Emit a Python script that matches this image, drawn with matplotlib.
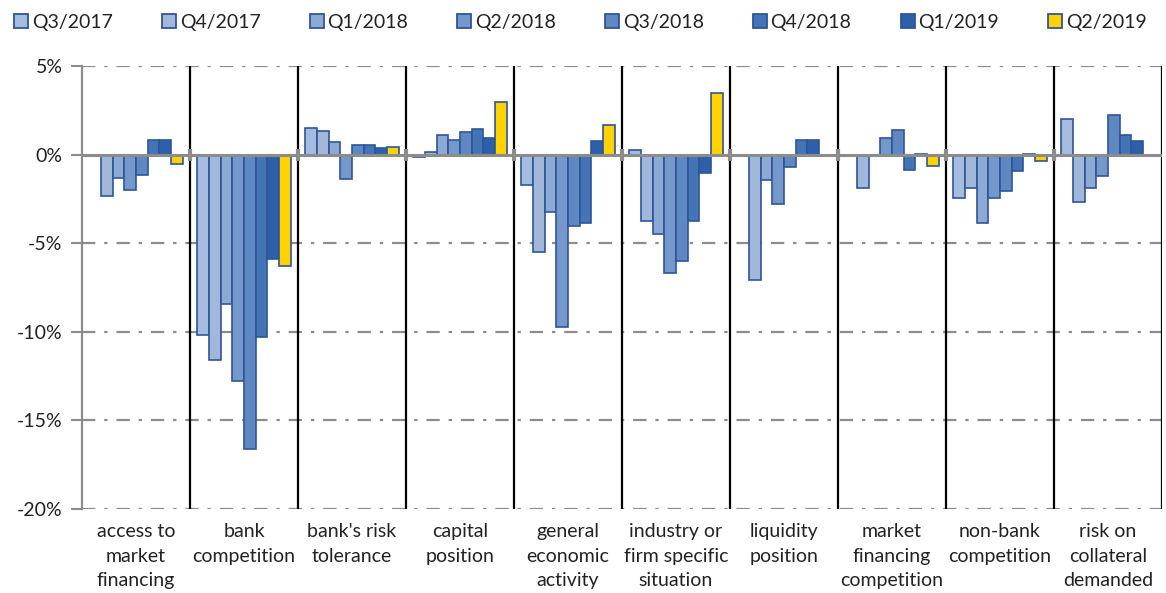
import numpy as np
import matplotlib
matplotlib.use("Agg")
import matplotlib.pyplot as plt
from matplotlib.lines import Line2D

categories = ["access to\nmarket\nfinancing", "bank\ncompetition", "bank's risk\ntolerance",
              "capital\nposition", "general\neconomic\nactivity", "industry or\nfirm specific\nsituation",
              "liquidity\nposition", "market\nfinancing\ncompetition", "non-bank\ncompetition",
              "risk on\ncollateral\ndemanded"]
series_names = ["Q3/2017", "Q4/2017", "Q1/2018", "Q2/2018", "Q3/2018", "Q4/2018", "Q1/2019", "Q2/2019"]

q3_2017 = [np.nan, -10.2, 1.5, -0.12, -1.74, 0.24, np.nan, -0.05, -2.43, 2.0]
q4_2017 = [-2.35, -11.57, 1.33, 0.12, -5.51, -3.77, -7.06, -1.86, -1.9, -2.7]
q1_2018 = [-1.32, -8.41, 0.71, 1.1, -3.25, -4.49, -1.42, 0.0, -3.87, -1.9]
q2_2018 = [-1.98, -12.79, -1.37, 0.84, -9.72, -6.68, -2.81, 0.93, -2.45, -1.2]
q3_2018 = [-1.17, -16.59, 0.53, 1.25, -4.04, -6.0, -0.7, 1.38, -2.04, 2.24]
q4_2018 = [0.85, -10.29, 0.53, 1.42, -3.87, -3.74, 0.85, -0.88, -0.92, 1.13]
q1_2019 = [0.8, -5.87, 0.35, 0.92, 0.75, -1.02, 0.85, 0.05, 0.05, 0.75]
q2_2019 = [-0.55, -6.26, 0.45, 2.97, 1.68, 3.45, -0.1, -0.62, -0.38, -0.05]

all_series = [q3_2017, q4_2017, q1_2018, q2_2018, q3_2018, q4_2018, q1_2019, q2_2019]
colors = ["#A6BCDE", "#A2B8DB", "#8CAAD3", "#7498CB", "#5D88C1", "#4374B6", "#2D60A9", "#FFD200"]
edge = "#2F5597"

plt.rcParams['font.family'] = ['Lato', 'DejaVu Sans']
txt = "#222222"

fig = plt.figure(figsize=(11.66, 5.93), dpi=100)
ax = fig.add_axes([0.0703, 0.1417, 0.9263, 0.747])

n = len(categories)
nb = len(all_series)
bw = 0.1083
x = np.arange(n)
for i, (vals, c) in enumerate(zip(all_series, colors)):
    offs = (i - (nb - 1) / 2) * bw
    ax.bar(x + offs, vals, width=bw, color=c, edgecolor=edge, linewidth=1.2, zorder=3)

ax.set_xlim(-0.5, n - 0.5)
ax.set_ylim(-20, 5)
ax.set_yticks([5, 0, -5, -10, -15, -20])
ax.set_yticklabels(["5%", "0%", "-5%", "-10%", "-15%", "-20%"], fontsize=14, color=txt)

for yv in [5, -5, -10, -15, -20]:
    ax.axhline(yv, color="#8C8C8C", lw=1.6, ls=(0, (6, 4, 1.5, 4)), zorder=1)
ax.axhline(0, color="#8C8C8C", lw=2.2, zorder=4)

bounds = np.arange(0.5, n, 1.0)
for b in bounds:
    ax.axvline(b, color="black", lw=1.6, zorder=2)
ax.plot(bounds[:-1], np.zeros(len(bounds) - 1), ls="none", marker="|",
        markersize=9, mew=3, color="#8C8C8C", zorder=5)

ax.set_xticks(x)
ax.set_xticklabels(categories, fontsize=14, color=txt, linespacing=1.55, va="top")
ax.tick_params(axis="x", length=0, pad=10)
ax.tick_params(axis="y", length=8, width=1.5, color="#8C8C8C", pad=6, direction="out")

for s in ["top", "right", "bottom"]:
    ax.spines[s].set_visible(False)
ax.spines["left"].set_color("#8C8C8C")
ax.spines["left"].set_linewidth(1.6)

handles = [Line2D([], [], ls="none", marker="s", markersize=10, markerfacecolor=c,
                  markeredgecolor=edge, markeredgewidth=1.3) for c in colors]
fig.legend(handles, series_names, loc="lower left", ncol=8, mode="expand",
           bbox_to_anchor=(0.005, 0.935, 0.985, 0.06), frameon=False, fontsize=14,
           handlelength=0.8, handletextpad=0.15, borderaxespad=0, labelcolor=txt)

fig.savefig("out.png", dpi=100)
